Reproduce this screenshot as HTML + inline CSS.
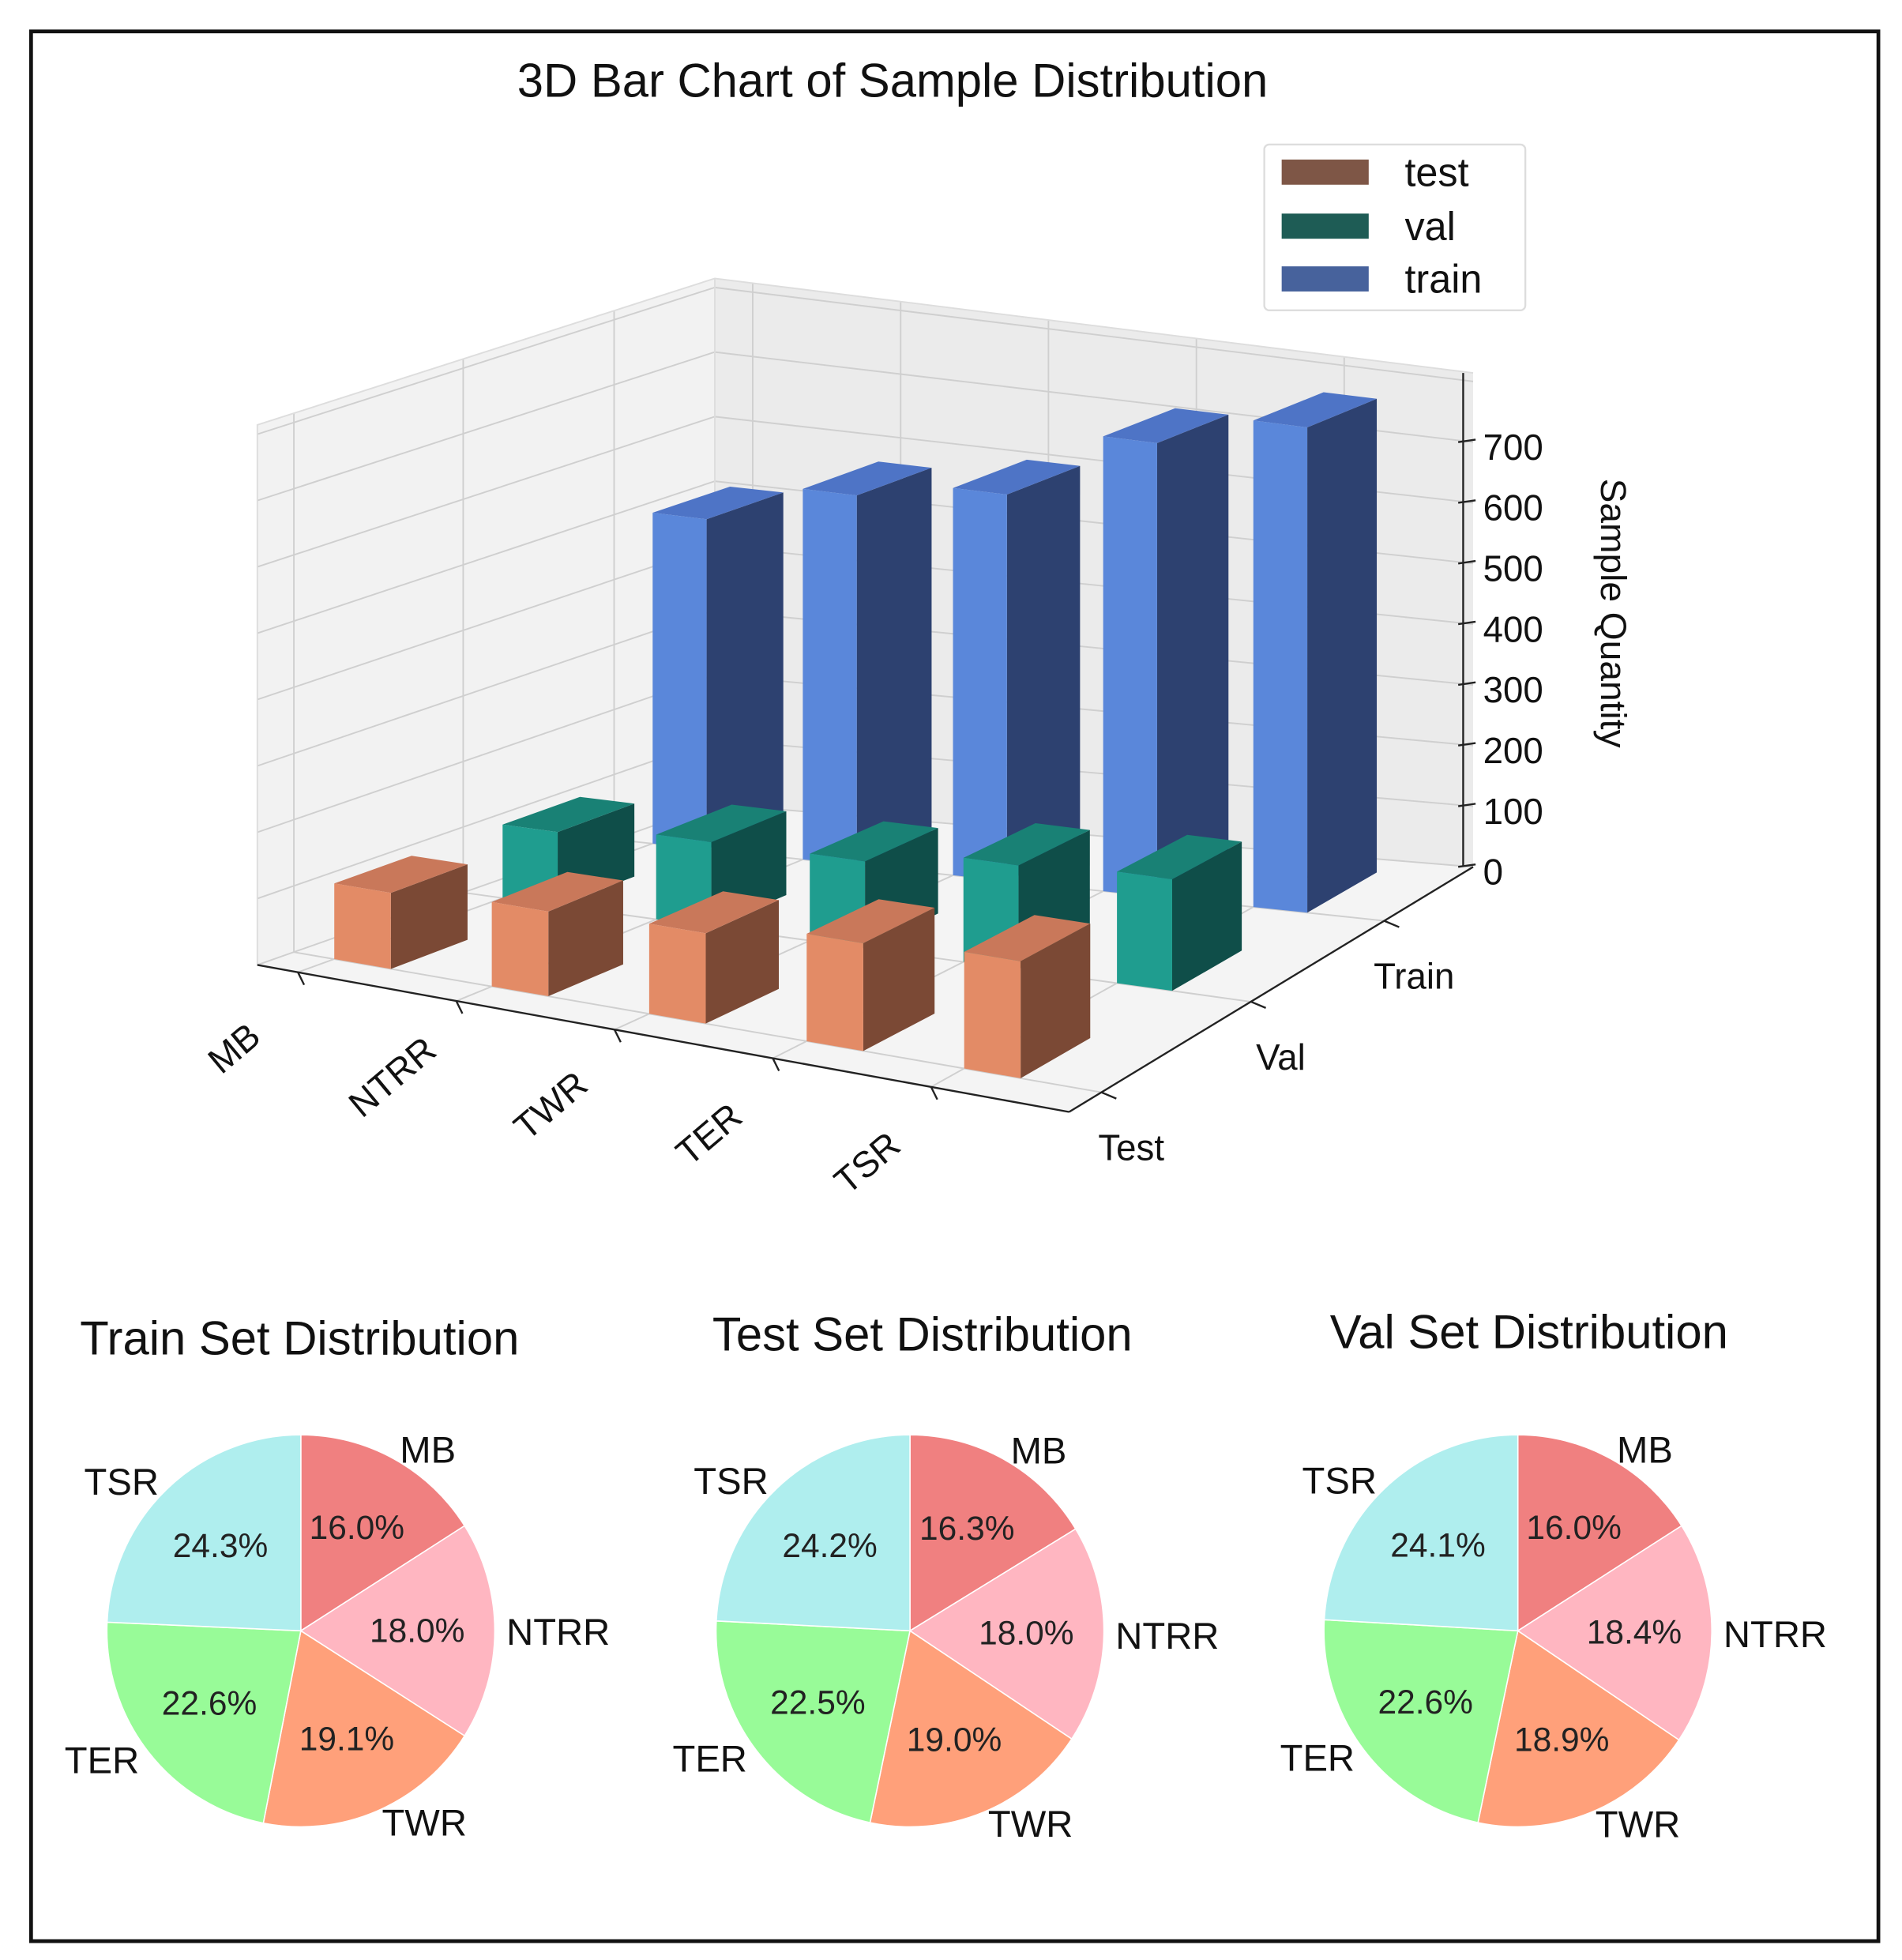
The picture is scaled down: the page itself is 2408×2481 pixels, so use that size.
<!DOCTYPE html>
<html><head><meta charset="utf-8">
<style>
html,body{margin:0;padding:0;background:#fff;}
svg{display:block;font-family:"Liberation Sans",Arial,sans-serif;}
</style></head>
<body>
<svg id="chart" width="2408" height="2481" viewBox="0 0 1530 1560" preserveAspectRatio="none" xmlns="http://www.w3.org/2000/svg">
  <rect x="0" y="0" width="1530" height="1560" fill="#fff"/>
  <rect x="25" y="25" width="1486" height="1520" fill="none" stroke="#111" stroke-width="3"/>
  <text x="718" y="77" font-size="38" text-anchor="middle" fill="#111">3D Bar Chart of Sample Distribution</text>
  <g id="bars3d"></g>
  <g>
    <rect x="1017" y="115" width="210" height="132" rx="4" fill="#fff" stroke="#ddd" stroke-width="1.5"/>
    <rect x="1031" y="127" width="70" height="20" fill="#7e5646"/>
    <text x="1130" y="148" font-size="32" fill="#111">test</text>
    <rect x="1031" y="170" width="70" height="20" fill="#1e5c55"/>
    <text x="1130" y="191" font-size="32" fill="#111">val</text>
    <rect x="1031" y="212" width="70" height="20" fill="#47629c"/>
    <text x="1130" y="233" font-size="32" fill="#111">train</text>
  </g>
  <g id="pies"></g>
</svg>
<script>
const categories = ["MB","NTRR","TWR","TER","TSR"];
const trainValues = [510, 575, 605, 715, 770];
const valValues = [112, 129, 132, 158, 169];
const testValues = [114, 126, 133, 157, 169];
const zTicks = [0,100,200,300,400,500,600,700];
const splitLabels = ["Test","Val","Train"];
const pieTitles = ["Train Set Distribution","Test Set Distribution","Val Set Distribution"];
const trainPct = [16.0, 18.0, 19.1, 22.6, 24.3];
const testPct = [16.3, 18.0, 19.0, 22.5, 24.2];
const valPct = [16.0, 18.4, 18.9, 22.6, 24.1];

const NS = "http://www.w3.org/2000/svg";
function mk(tag, attrs, parent){
  const e = document.createElementNS(NS, tag);
  for (const k in attrs) e.setAttribute(k, attrs[k]);
  parent.appendChild(e);
  return e;
}
const A=[207,768], B=[860,885], C=[1185,690], D=[575,640];
const kA=0.528, kB=0.56, kC=0.483, kD=0.514;
const zMax = 814;
function P(u,v,z){
  const w1=(1-u)*(1-v), w2=u*(1-v), w3=u*v, w4=(1-u)*v;
  const x=A[0]*w1+B[0]*w2+C[0]*w3+D[0]*w4;
  const y=A[1]*w1+B[1]*w2+C[1]*w3+D[1]*w4;
  const k=kA*w1+kB*w2+kC*w3+kD*w4;
  return [x, y - z*k];
}
function pts(arr){ return arr.map(p=>p[0].toFixed(1)+","+p[1].toFixed(1)).join(" "); }

const g = document.getElementById("bars3d");
let e;
e = mk("polygon",{points:pts([P(0,0,0),P(0,1,0),P(0,1,zMax),P(0,0,zMax)]),fill:"#f2f2f2",stroke:"none"},g);


e = mk("polygon",{points:pts([P(0,1,0),P(1,1,0),P(1,1,zMax),P(0,1,zMax)]),fill:"#ebebeb",stroke:"none"},g);


e = mk("polygon",{points:pts([P(0,0,0),P(1,0,0),P(1,1,0),P(0,1,0)]),fill:"#f4f4f4",stroke:"none"},g);



const u0s = categories.map((c,i)=>0.05+i*0.195);
const du = 0.07, dv = 0.17;
const rowV = [0.08, 0.45, 0.78];
const gridC = "#cfcfcf";
zTicks.concat([800]).forEach(z=>{
  let l = mk("polyline",{points:pts([P(0,0,z),P(0,1,z),P(1,1,z)]),fill:"none",stroke:gridC,"stroke-width":1.2},g);
  
  
});
u0s.forEach(u=>{
  let l = mk("polyline",{points:pts([P(u,0,0),P(u,1,0),P(u,1,zMax)]),fill:"none",stroke:gridC,"stroke-width":1.2},g);
  
  
});
rowV.forEach(v=>{
  let l = mk("polyline",{points:pts([P(1,v,0),P(0,v,0),P(0,v,zMax)]),fill:"none",stroke:gridC,"stroke-width":1.2},g);
  
  
});
e = mk("polyline",{points:pts([P(0,0,0),P(0,0,zMax),P(0,1,zMax),P(1,1,zMax)]),fill:"none",stroke:"#ddd","stroke-width":1.2},g);


e = mk("line",{x1:P(0,1,0)[0],y1:P(0,1,0)[1],x2:P(0,1,zMax)[0],y2:P(0,1,zMax)[1],stroke:"#ddd","stroke-width":1.2},g);



const series = [
  {vals:trainValues, v:rowV[2], front:"#5a87da", side:"#2d4170", top:"#4e74c6", name:"train"},
  {vals:valValues, v:rowV[1], front:"#1f9d8f", side:"#0f4e49", top:"#198175", name:"val"},
  {vals:testValues, v:rowV[0], front:"#e38b66", side:"#7b4935", top:"#c9785a", name:"test"}
];
series.forEach(s=>{
  s.vals.forEach((val,i)=>{
    const u0=u0s[i], u1=u0+du, v0=s.v, v1=s.v+dv;
    const bg = mk("g",{},g);
    
    
    mk("polygon",{points:pts([P(u1,v0,0),P(u1,v1,0),P(u1,v1,val),P(u1,v0,val)]),fill:s.side},bg);
    mk("polygon",{points:pts([P(u0,v0,val),P(u1,v0,val),P(u1,v1,val),P(u0,v1,val)]),fill:s.top},bg);
    mk("polygon",{points:pts([P(u0,v0,0),P(u1,v0,0),P(u1,v0,val),P(u0,v0,val)]),fill:s.front},bg);
  });
});

e = mk("line",{x1:A[0],y1:A[1],x2:B[0],y2:B[1],stroke:"#222","stroke-width":1.5},g);


e = mk("line",{x1:B[0],y1:B[1],x2:C[0],y2:C[1],stroke:"#222","stroke-width":1.5},g);


const zb=P(1,1,0), zt=P(1,1,zMax);
e = mk("line",{x1:zb[0]-8,y1:zb[1],x2:zt[0]-8,y2:zt[1],stroke:"#222","stroke-width":1.5},g);



u0s.forEach((u,i)=>{
  const p=P(u,0,0);
  let t = mk("line",{x1:p[0],y1:p[1],x2:p[0]+5,y2:p[1]+10,stroke:"#222","stroke-width":1.5},g);
  
  
  const lx=p[0]-45, ly=p[1]+68;
  let tx = mk("text",{x:lx,y:ly,"font-size":29,"text-anchor":"middle",fill:"#111",transform:`rotate(-40 ${lx} ${ly})`},g);
  tx.textContent = categories[i];
  
  
});
rowV.forEach((v,i)=>{
  const p=P(1,v,0);
  let t = mk("line",{x1:p[0],y1:p[1],x2:p[0]+12,y2:p[1]+5,stroke:"#222","stroke-width":1.5},g);
  
  
  let tx = mk("text",{x:p[0]+24,y:p[1]+54,"font-size":29,"text-anchor":"middle",fill:"#111"},g);
  tx.textContent = splitLabels[i];
  
  
});
zTicks.forEach(z=>{
  const p=P(1,1,z);
  let t = mk("line",{x1:p[0]-12,y1:p[1],x2:p[0]+2,y2:p[1]-2,stroke:"#222","stroke-width":1.5},g);
  
  
  let tx = mk("text",{x:p[0]+8,y:p[1]+14,"font-size":29,fill:"#111"},g);
  tx.textContent = z;
  
  
});
e = mk("text",{x:1288,y:488,"font-size":29,"text-anchor":"middle",fill:"#111",transform:"rotate(90 1288 488)"},g);
e.textContent="Sample Quantity";



const pieColors = ["#f08080","#ffb6c1","#ffa07a","#98fb98","#afeeee"];
const pieData = [trainPct, testPct, valPct];
const pieCenters = [[242,1298],[732,1298],[1221,1298]];
const titleX = [241,742,1230];
const titleY = [1078,1075,1073];
const pg = document.getElementById("pies");
pieData.forEach((vals,pi)=>{
  const grp = mk("g",{},pg);
  
  
  const [cx,cy]=pieCenters[pi], r=156;
  let tt = mk("text",{x:titleX[pi],y:titleY[pi],"font-size":38,"text-anchor":"middle",fill:"#111"},grp);
  tt.textContent = pieTitles[pi];
  
  
  const total = vals.reduce((a,b)=>a+b,0);
  let acc=0;
  vals.forEach((v,i)=>{
    const a0=acc/total*2*Math.PI; acc+=v; const a1=acc/total*2*Math.PI;
    const x0=cx+r*Math.sin(a0), y0=cy-r*Math.cos(a0);
    const x1=cx+r*Math.sin(a1), y1=cy-r*Math.cos(a1);
    const large=(a1-a0)>Math.PI?1:0;
    let s = mk("path",{d:`M${cx},${cy} L${x0},${y0} A${r},${r} 0 ${large} 1 ${x1},${y1} Z`,fill:pieColors[i],stroke:"#fff","stroke-width":1},grp);
    
    
    const am=(a0+a1)/2;
    const px=cx+0.6*r*Math.sin(am), py=cy-0.6*r*Math.cos(am);
    let pt = mk("text",{x:px,y:py+9,"font-size":27,"text-anchor":"middle",fill:"#222"},grp);
    pt.textContent = v.toFixed(1)+"%";
    
    
    const lr=1.06*r;
    const lx=cx+lr*Math.sin(am), ly=cy-lr*Math.cos(am);
    const anchor = Math.sin(am)>=0?"start":"end";
    let lt = mk("text",{x:lx,y:ly+11,"font-size":30,"text-anchor":anchor,fill:"#111"},grp);
    lt.textContent = categories[i];
    
    
  });
});
</script>
</body></html>
